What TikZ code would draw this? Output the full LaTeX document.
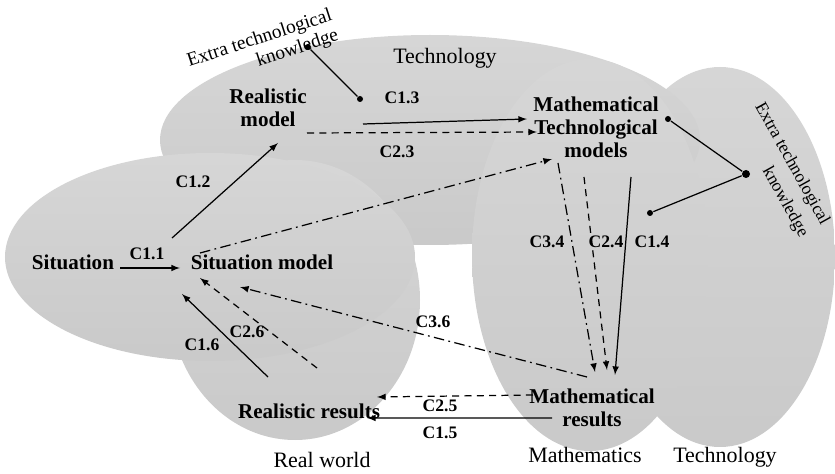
\documentclass[tikz,border=0pt]{standalone}
\usepackage{fontspec}
\setmainfont{Liberation Serif}
\tikzset{blob/.style={top color=black!16,bottom color=black!21},
         area/.style={font=\fontsize{12.5}{14}\selectfont},
         lbl/.style={font=\bfseries\fontsize{12}{13}\selectfont,align=center},
         clbl/.style={font=\bfseries\fontsize{10}{11}\selectfont},
         etk/.style={align=right,inner sep=0pt},
         dot/.style={circle,fill,inner sep=0pt,minimum size=1.2mm},
         dashdot/.style={dash pattern=on 6pt off 2.5pt on 1pt off 2.5pt},
         dsh/.style={dash pattern=on 4pt off 3pt}}

\begin{document}
\begin{tikzpicture}[>=latex, line width=0.7pt]
        \useasboundingbox (0,0) rectangle (16.7,9.46);
        % gray areas
        \path[blob] (14.4,4.32) ellipse (2.3 and 3.8);
        \path[blob] (8.6,6.66) ellipse (5.4 and 2.1);
        \path[blob] (11.8,4.36) ellipse (2.36 and 3.92);
        \path[blob] (5.9,3.46) ellipse (2.5 and 2.8);
        \path[blob] (4.2,4.32) ellipse (4.1 and 2.08);

        \node[area](techtop)at(8.9,8.3){Technology};
        \node[area](realw)at(6.44,0.26){Real world};
        \node[area](mathem)at(11.7,0.36){Mathematics};
        \node[area](techbot)at(14.5,0.32){Technology};

        \node[lbl](sit)at(1.46,4.22){Situation};
        \node[lbl](sitm)at(5.24,4.22){Situation model};
        \node[lbl](realm)at(5.36,7.30){Realistic\\model};
        \node[lbl](mtm)at(11.92,6.92){Mathematical\\Technological\\models};
        \node[lbl](mres)at(11.84,1.30){Mathematical\\results};
        \node[lbl](rres)at(6.18,1.24){Realistic results};

        \node[etk, rotate=18, font=\fontsize{11}{12}\selectfont](etk1)at(5.26,8.48){Extra technological\\knowledge};
        \node[etk, rotate=-61, font=\fontsize{10}{14}\selectfont](etk2)at(15.62,6.06){Extra technological\\knowledge};

        \node[dot](d1)at(6.16,8.52){};
        \node[dot](d2)at(7.2,7.48){};
        \node[dot](d3)at(13.36,7.08){};
        \node[dot, minimum size=1.6mm](d4)at(14.92,5.98){};
        \node[dot](d5)at(13.0,5.2){};
        \draw(d1)--(d2);
        \draw(d3)--(d4)--(d5);

        \node[clbl](c11)at(2.94,4.38){C1.1};
        \node[clbl](c12)at(3.86,5.82){C1.2};
        \node[clbl](c13)at(8.04,7.5){C1.3};
        \node[clbl](c23)at(7.94,6.42){C2.3};
        \node[clbl](c34)at(10.94,4.62){C3.4};
        \node[clbl](c24)at(12.12,4.62){C2.4};
        \node[clbl](c14)at(13.04,4.62){C1.4};
        \node[clbl](c36)at(8.66,3.02){C3.6};
        \node[clbl](c26)at(4.94,2.82){C2.6};
        \node[clbl](c16)at(4.04,2.56){C1.6};
        \node[clbl](c25)at(8.8,1.34){C2.5};
        \node[clbl](c15)at(8.8,0.8){C1.5};

        % modelling cycle
        \draw[->]([shift={(0.94,-0.12)}]sit.center)--([shift={(-1.64,-0.12)}]sitm.center);
        \draw[->]([shift={(-1.8,0.48)}]sitm.center)--([shift={(0.2,-0.7)}]realm.center);
        \draw[->]([shift={(1.9,-0.32)}]realm.center)--([shift={(-1.38,0.16)}]mtm.center);
        \draw[->, dsh]([shift={(0.78,-0.5)}]realm.center)--([shift={(-1.18,-0.1)}]mtm.center);
        \draw[->, dashdot]([shift={(-1.24,0.18)}]sitm.center)--([shift={(-0.88,-0.64)}]mtm.center);
        \draw[->, dashdot]([shift={(-0.76,-0.72)}]mtm.center)--([shift={(0.06,0.72)}]mres.center);
        \draw[->, dsh]([shift={(-0.24,-1.0)}]mtm.center)--([shift={(0.3,0.76)}]mres.center);
        \draw[->]([shift={(0.7,-1.0)}]mtm.center)--([shift={(0.46,0.66)}]mres.center);
        \draw[->, dashdot]([shift={(-0.1,0.62)}]mres.center)--([shift={(-0.44,-0.5)}]sitm.center);
        \draw[->, dsh]([shift={(0.16,0.86)}]rres.center)--([shift={(-1.24,-0.32)}]sitm.center);
        \draw[->]([shift={(-0.82,0.68)}]rres.center)--([shift={(-1.6,-0.64)}]sitm.center);
        \draw[->, dsh]([shift={(-1.18,0.26)}]mres.center)--([shift={(1.36,0.28)}]rres.center);
        \draw[->]([shift={(-0.8,-0.2)}]mres.center)--([shift={(1.16,-0.14)}]rres.center);
    \end{tikzpicture}
\end{document}
